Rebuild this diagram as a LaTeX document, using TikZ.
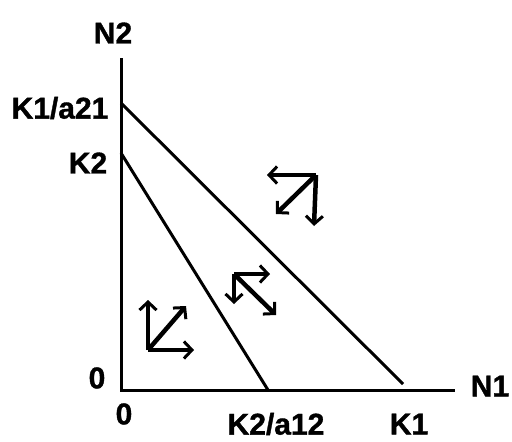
\documentclass[tikz,border=0pt]{standalone}
\usepackage{fontspec}
\setmainfont{Liberation Sans}[BoldFeatures={FakeBold=1.2}]
\usetikzlibrary{arrows.meta}

\begin{document}
\begin{tikzpicture}[
  x=1pt, y=-1pt, font=\fontsize{30}{31}\selectfont\bfseries,
  axis/.style={line width=3pt},
  iso/.style={line width=3pt},
  flow/.style={line width=4.5pt, -{Straight Barb[length=8pt,width=17pt,line width=3pt]}},
  lbl/.style={inner sep=0pt},
]
\useasboundingbox (0,0) rectangle (512,442);
% axes
\coordinate (O) at (121,390);
\coordinate (ytop) at (121,58);
\coordinate (xend) at (455,390);
\draw[axis] (ytop) -- (O) -- (xend);
\node[lbl] (n2) at (113,33) {N2};
\node[lbl] (n1) at (490,386) {N1};
\node[lbl] (zeroy) at (97,378) {0};
\node[lbl] (zerox) at (124,414) {0};
% isoclines
\coordinate (k1a21) at (121,103);
\coordinate (k1) at (403,384);
\coordinate (k2) at (121,153);
\coordinate (k2a12) at (268,390);
\draw[iso] (k1a21) -- (k1);
\draw[iso] (k2) -- (k2a12);
\node[lbl] (lk1a21) at (60,108) {K1/a21};
\node[lbl] (lk2) at (88,163) {K2};
\node[lbl] (lk2a12) at (276,424) {K2/a12};
\node[lbl] (lk1) at (409,424) {K1};
% growth directions
\coordinate (c1) at (148,350);
\coordinate (c1u) at (148,300);
\coordinate (c1r) at (194,350);
\coordinate (c1d) at (186,306);
\draw[flow] (c1) -- (c1u);
\draw[flow] (c1) -- (c1r);
\draw[flow] (c1) -- (c1d);
\coordinate (c2) at (234,274);
\coordinate (c2r) at (270,274);
\coordinate (c2d) at (234,304);
\coordinate (c2g) at (276,315);
\draw[flow] (c2) -- (c2r);
\draw[flow] (c2) -- (c2d);
\draw[flow] (c2) -- (c2g);
\coordinate (c3) at (316,175);
\coordinate (c3l) at (267,175);
\coordinate (c3d) at (314,226);
\coordinate (c3g) at (276,214);
\draw[flow] (c3) -- (c3l);
\draw[flow] (c3) -- (c3d);
\draw[flow] (c3) -- (c3g);
\end{tikzpicture}
\end{document}
